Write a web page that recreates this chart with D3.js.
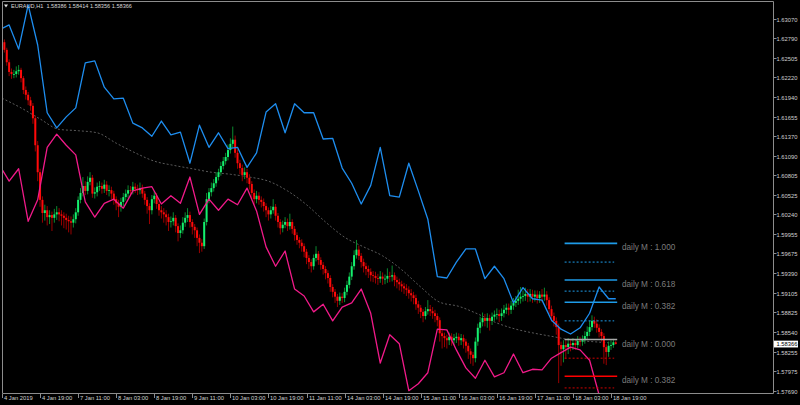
<!DOCTYPE html>
<html><head><meta charset="utf-8">
<script src="https://cdn.jsdelivr.net/npm/d3@7"></script>
<style>html,body{margin:0;padding:0;background:#000;overflow:hidden}</style>
</head><body>
<svg id="c" width="800" height="405"></svg>
<script>
const symbolTitle = "EURAUD,H1  1.58386 1.58414 1.58356 1.58366";
const firstOpen = 1.6267;
const closes = [1.6273,1.6262,1.6244,1.6230,1.6227,1.6227,1.6231,1.6233,1.6221,1.6204,
1.6197,1.6189,1.6181,1.6163,1.6124,1.6085,1.6045,1.6026,1.6030,1.6020,
1.6023,1.6019,1.6024,1.6027,1.6024,1.6022,1.6019,1.6016,1.6014,1.6012,
1.6017,1.6027,1.6045,1.6055,1.6065,1.6058,1.6071,1.6077,1.6054,1.6056,
1.6064,1.6065,1.6061,1.6067,1.6058,1.6059,1.6054,1.6046,1.6040,1.6035,
1.6042,1.6049,1.6054,1.6059,1.6058,1.6064,1.6061,1.6059,1.6062,1.6054,
1.6045,1.6036,1.6030,1.6046,1.6051,1.6039,1.6030,1.6027,1.6024,1.6020,
1.6013,1.6014,1.6019,1.6007,1.5997,1.6001,1.6012,1.6019,1.6023,1.6013,
1.6006,1.6001,1.5990,1.5983,1.5978,1.6013,1.6046,1.6056,1.6062,1.6069,
1.6078,1.6085,1.6094,1.6101,1.6107,1.6117,1.6126,1.6132,1.6113,1.6098,
1.6091,1.6081,1.6085,1.6077,1.6068,1.6055,1.6046,1.6051,1.6045,1.6042,
1.6036,1.6030,1.6024,1.6030,1.6035,1.6022,1.6013,1.6004,1.6009,1.6013,
1.6007,1.6013,1.6003,1.5994,1.5987,1.5983,1.5978,1.5970,1.5961,1.5955,
1.5949,1.5961,1.5967,1.5958,1.5951,1.5945,1.5939,1.5932,1.5919,1.5912,
1.5905,1.5899,1.5905,1.5903,1.5912,1.5922,1.5934,1.5949,1.5965,1.5973,
1.5964,1.5955,1.5949,1.5945,1.5941,1.5936,1.5935,1.5932,1.5931,1.5934,
1.5931,1.5931,1.5935,1.5934,1.5936,1.5929,1.5926,1.5923,1.5920,1.5917,
1.5915,1.5910,1.5907,1.5903,1.5894,1.5889,1.5883,1.5877,1.5884,1.5887,
1.5884,1.5881,1.5877,1.5871,1.5852,1.5848,1.5845,1.5842,1.5847,1.5842,
1.5845,1.5847,1.5842,1.5845,1.5840,1.5834,1.5826,1.5821,1.5816,1.5840,
1.5860,1.5868,1.5874,1.5870,1.5874,1.5870,1.5876,1.5879,1.5880,1.5877,
1.5881,1.5886,1.5889,1.5886,1.5892,1.5896,1.5899,1.5902,1.5905,1.5906,
1.5909,1.5905,1.5909,1.5905,1.5908,1.5903,1.5908,1.5905,1.5908,1.5900,
1.5887,1.5877,1.5870,1.5861,1.5835,1.5829,1.5835,1.5832,1.5837,1.5835,
1.5838,1.5835,1.5841,1.5840,1.5842,1.5848,1.5854,1.5861,1.5870,1.5866,
1.5860,1.5854,1.5848,1.5832,1.5825,1.5834,1.5835,1.5839,1.58366];
const highs = [1.6278,1.6277,1.6265,1.6248,1.6235,1.6233,1.6238,1.6240,1.6236,1.6224,
1.6209,1.6201,1.6194,1.6185,1.6167,1.6130,1.6090,1.6050,1.6038,1.6036,
1.6030,1.6028,1.6032,1.6036,1.6033,1.6030,1.6027,1.6025,1.6022,1.6021,
1.6024,1.6033,1.6050,1.6062,1.6078,1.6072,1.6079,1.6085,1.6081,1.6063,
1.6070,1.6072,1.6070,1.6074,1.6072,1.6066,1.6064,1.6058,1.6050,1.6045,
1.6048,1.6055,1.6060,1.6066,1.6065,1.6071,1.6069,1.6067,1.6070,1.6067,
1.6058,1.6049,1.6040,1.6052,1.6058,1.6055,1.6043,1.6036,1.6033,1.6030,
1.6025,1.6021,1.6027,1.6023,1.6011,1.6008,1.6020,1.6027,1.6033,1.6028,
1.6017,1.6010,1.6005,1.5995,1.5988,1.6018,1.6055,1.6062,1.6070,1.6075,
1.6085,1.6090,1.6100,1.6107,1.6113,1.6125,1.6134,1.6151,1.6138,1.6118,
1.6103,1.6096,1.6092,1.6090,1.6082,1.6072,1.6060,1.6058,1.6056,1.6050,
1.6047,1.6040,1.6034,1.6036,1.6046,1.6039,1.6026,1.6017,1.6015,1.6020,
1.6018,1.6025,1.6017,1.6007,1.5998,1.5991,1.5988,1.5982,1.5974,1.5965,
1.5959,1.5966,1.5978,1.5971,1.5962,1.5955,1.5949,1.5943,1.5936,1.5923,
1.5916,1.5909,1.5911,1.5910,1.5918,1.5928,1.5940,1.5955,1.5972,1.5987,
1.5979,1.5968,1.5960,1.5954,1.5950,1.5946,1.5942,1.5941,1.5938,1.5942,
1.5940,1.5937,1.5946,1.5941,1.5950,1.5940,1.5934,1.5931,1.5928,1.5925,
1.5923,1.5920,1.5916,1.5912,1.5908,1.5899,1.5893,1.5887,1.5890,1.5900,
1.5893,1.5890,1.5886,1.5881,1.5875,1.5857,1.5853,1.5850,1.5853,1.5852,
1.5851,1.5853,1.5852,1.5851,1.5850,1.5844,1.5838,1.5830,1.5825,1.5846,
1.5866,1.5876,1.5882,1.5880,1.5881,1.5879,1.5882,1.5885,1.5888,1.5886,
1.5888,1.5893,1.5895,1.5895,1.5899,1.5903,1.5906,1.5915,1.5919,1.5914,
1.5918,1.5916,1.5916,1.5915,1.5914,1.5914,1.5913,1.5916,1.5918,1.5913,
1.5904,1.5892,1.5882,1.5875,1.5866,1.5840,1.5842,1.5842,1.5845,1.5843,
1.5845,1.5843,1.5848,1.5847,1.5849,1.5855,1.5862,1.5870,1.5878,1.5876,
1.5872,1.5865,1.5858,1.5852,1.5836,1.5840,1.5842,1.5844,1.58414];
const lows = [1.6263,1.6258,1.6239,1.6224,1.6220,1.6221,1.6222,1.6226,1.6215,1.6198,
1.6190,1.6182,1.6174,1.6155,1.6115,1.6072,1.6035,1.6012,1.6015,1.6008,
1.6010,1.6000,1.6012,1.6016,1.6014,1.6008,1.6004,1.6002,1.5998,1.5995,
1.6005,1.6011,1.6022,1.6040,1.6050,1.6052,1.6053,1.6066,1.6048,1.6047,
1.6050,1.6058,1.6054,1.6055,1.6052,1.6050,1.6046,1.6038,1.6030,1.6020,
1.6028,1.6036,1.6044,1.6048,1.6051,1.6053,1.6055,1.6052,1.6053,1.6048,
1.6038,1.6025,1.6010,1.6024,1.6040,1.6032,1.6022,1.6018,1.6012,1.6008,
1.6000,1.6005,1.6008,1.5998,1.5985,1.5990,1.5996,1.6006,1.6013,1.6005,
1.5995,1.5990,1.5978,1.5968,1.5970,1.5974,1.6008,1.6040,1.6050,1.6057,
1.6064,1.6073,1.6080,1.6089,1.6096,1.6102,1.6112,1.6120,1.6106,1.6090,
1.6082,1.6072,1.6075,1.6069,1.6060,1.6046,1.6038,1.6040,1.6038,1.6034,
1.6028,1.6020,1.6015,1.6018,1.6025,1.6015,1.6005,1.5995,1.5998,1.6004,
1.6000,1.6002,1.5996,1.5986,1.5980,1.5975,1.5970,1.5962,1.5952,1.5945,
1.5940,1.5944,1.5956,1.5951,1.5944,1.5937,1.5930,1.5924,1.5912,1.5904,
1.5896,1.5890,1.5893,1.5896,1.5897,1.5907,1.5917,1.5929,1.5944,1.5960,
1.5958,1.5947,1.5940,1.5936,1.5932,1.5927,1.5926,1.5924,1.5922,1.5925,
1.5922,1.5923,1.5925,1.5926,1.5927,1.5920,1.5917,1.5914,1.5912,1.5909,
1.5906,1.5902,1.5898,1.5894,1.5886,1.5880,1.5874,1.5868,1.5872,1.5879,
1.5877,1.5873,1.5868,1.5862,1.5840,1.5830,1.5832,1.5830,1.5835,1.5834,
1.5835,1.5838,1.5834,1.5835,1.5830,1.5824,1.5815,1.5808,1.5805,1.5810,
1.5834,1.5852,1.5862,1.5862,1.5860,1.5856,1.5864,1.5870,1.5872,1.5868,
1.5870,1.5875,1.5880,1.5878,1.5880,1.5886,1.5890,1.5893,1.5895,1.5898,
1.5899,1.5897,1.5898,1.5896,1.5898,1.5895,1.5896,1.5897,1.5899,1.5892,
1.5880,1.5869,1.5862,1.5850,1.5780,1.5805,1.5810,1.5815,1.5822,1.5826,
1.5828,1.5828,1.5830,1.5833,1.5834,1.5837,1.5842,1.5848,1.5856,1.5860,
1.5853,1.5846,1.5840,1.5808,1.5806,1.5818,1.5828,1.5831,1.58356];
// upper (blue) and lower (pink) envelope, one vertex every 4 bars
const upperLine = [1.6291,1.6298,1.6263,1.6327,1.6269,1.6171,1.6149,1.6165,1.6178,1.6243,
1.6246,1.6208,1.6191,1.6192,1.6156,1.6149,1.6137,1.6159,1.6139,1.6143,
1.6098,1.6153,1.6121,1.6142,1.6119,1.6121,1.6092,1.6113,1.6172,1.6184,
1.6142,1.6184,1.6171,1.6171,1.6133,1.6134,1.6091,1.6069,1.6039,1.6066,
1.6121,1.6051,1.6049,1.6098,1.6058,1.6017,1.5934,1.5932,1.5955,1.5974,
1.5974,1.5931,1.5949,1.5931,1.5896,1.5918,1.5902,1.5900,1.5871,1.5858,
1.5851,1.5860,1.5881,1.5919,1.5902,1.5902];
const lowerLine = [1.6095,1.6072,1.6090,1.6014,1.6045,1.6121,1.6140,1.6124,1.6110,1.6042,
1.6020,1.6040,1.6046,1.6033,1.6058,1.6062,1.6064,1.6039,1.6051,1.6040,
1.6078,1.6024,1.6046,1.6030,1.6046,1.6038,1.6062,1.6029,1.5977,1.5949,
1.5971,1.5916,1.5906,1.5883,1.5894,1.5870,1.5890,1.5896,1.5916,1.5881,
1.5809,1.5850,1.5837,1.5769,1.5779,1.5795,1.5858,1.5857,1.5828,1.5802,
1.5787,1.5813,1.5789,1.5795,1.5822,1.5795,1.5800,1.5799,1.5816,1.5824,
1.5832,1.5828,1.5813,1.5763,1.5727,1.5712];
// moving average, sampled every 8 bars
const maLine = [1.6192,1.6178,1.6162,1.6147,1.6145,1.6142,1.6127,1.6113,1.6101,1.6095,
1.6090,1.6085,1.6082,1.6078,1.6072,1.6058,1.6038,1.6013,1.5991,1.5977,
1.5964,1.5944,1.5919,1.5897,1.5891,1.5880,1.5867,1.5858,1.5852,1.5847,
1.5842,1.5840,1.5838];
const priceTicks = ["1.63070","1.62790","1.62505","1.62220","1.61940","1.61655","1.61370","1.61090","1.60805","1.60525","1.60240","1.59955","1.59675","1.59390","1.59105","1.58825","1.58540","1.58255","1.57975","1.57690"];
const timeLabels = ["4 Jan 2019","4 Jan 19:00","7 Jan 11:00","8 Jan 03:00","8 Jan 19:00","9 Jan 11:00","10 Jan 03:00","10 Jan 19:00","11 Jan 11:00","14 Jan 03:00","14 Jan 19:00","15 Jan 11:00","16 Jan 03:00","16 Jan 19:00","17 Jan 11:00","18 Jan 03:00","18 Jan 19:00"];
const currentPrice = 1.58366;
const levelPrices = [1.5982,1.5955,1.5929,1.5913,1.5897,1.5870,1.5843,1.5816,1.5790,1.5773];
const levelKinds  = ["up","upDot","up","upDot","up","upDot","zero","dnDot","dn","dnDot"];
const levelLabels = ["daily M : 1.000","","daily M : 0.618","","daily M : 0.382","","daily M : 0.000","","daily M : 0.382",""];

const W=800,H=405;
const P={l:2,r:773,t:2,b:393};
const x=d3.scaleLinear().domain([0,256]).range([2,611]);
const y=d3.scaleLinear().domain([1.57690,1.63070]).range([390.7,18.7]);
const svg=d3.select('#c');
svg.append('rect').attr('width',W).attr('height',H).attr('fill','#000');
svg.append('defs').append('clipPath').attr('id','clip').append('rect')
  .attr('x',P.l).attr('y',P.t).attr('width',P.r-P.l).attr('height',P.b-P.t);
const g=svg.append('g').attr('clip-path','url(#clip)');

// moving average
g.append('path').datum(maLine)
  .attr('d',d3.line().x((d,i)=>x(i*8)).y(d=>y(d)).curve(d3.curveMonotoneX))
  .attr('fill','none').attr('stroke','#5a5a5a').attr('stroke-width',1).attr('stroke-dasharray','2,2');

// candles
const bars=closes.map((c,i)=>({i,o:i?closes[i-1]:firstOpen,c,h:highs[i],l:lows[i]}));
const cg=g.append('g');
cg.selectAll('line.w').data(bars).join('line').attr('class','w')
  .attr('x1',d=>x(d.i)).attr('x2',d=>x(d.i))
  .attr('y1',d=>y(d.h)).attr('y2',d=>y(d.l))
  .attr('stroke',d=>d.c>=d.o?'#0b8a30':'#9a0000').attr('stroke-width',1);
cg.selectAll('rect.b').data(bars).join('rect').attr('class','b')
  .attr('x',d=>x(d.i)-1).attr('width',2)
  .attr('y',d=>Math.min(y(d.o),y(d.c)))
  .attr('height',d=>Math.max(0.8,Math.abs(y(d.o)-y(d.c))))
  .attr('fill',d=>d.c>=d.o?'#14f06e':'#ff0a0a');

// envelope lines
const lastBar=closes.length-1;
const vx=(i,n)=> i===n-1? x(lastBar) : x(4*i-1);
[[upperLine,'#1e8ef0'],[lowerLine,'#f21a8a']].forEach(([arr,col])=>{
  g.append('path').datum(arr)
   .attr('d',d3.line().x((d,i)=>vx(i,arr.length)).y(d=>y(d)))
   .attr('fill','none').attr('stroke',col).attr('stroke-width',1.3).attr('stroke-linejoin','round');
});

// daily M levels
const lx1=x(236.5), lx2=x(258.6);
const style={up:['#1e9be8',1.6,null],upDot:['#1e9be8',1,'2,2'],zero:['#a8a8a8',1.6,null],dn:['#ff0000',1.6,null],dnDot:['#d00000',1,'2,2']};
levelPrices.forEach((p,k)=>{
  const s=style[levelKinds[k]];
  g.append('line').attr('x1',lx1).attr('x2',s[2]?lx2-3:lx2).attr('y1',y(p)).attr('y2',y(p))
   .attr('stroke',s[0]).attr('stroke-width',s[1]).attr('stroke-dasharray',s[2]);
  if(levelLabels[k]) g.append('text').attr('x',622).attr('y',y(p)+7)
   .attr('fill','#7c7c7c').attr('font-family','Liberation Sans, Arial, sans-serif').attr('font-size',8.2)
   .text(levelLabels[k]);
});

// frame
const axisCol='#8c8c8c';
svg.append('path').attr('d',`M${P.l+0.5},${P.b+0.5}V${P.t-0.5}H${P.r+0.5}V${P.b+0.5}H${P.l+0.5}`)
  .attr('fill','none').attr('stroke',axisCol).attr('stroke-width',1);

const font='Liberation Sans, Arial, sans-serif';
// price axis
priceTicks.forEach(t=>{
  const yy=Math.round(y(+t))+0.5;
  svg.append('line').attr('x1',P.r+0.5).attr('x2',P.r+3.5).attr('y1',yy).attr('y2',yy).attr('stroke',axisCol);
  svg.append('text').attr('x',776.5).attr('y',yy+2).attr('fill','#d0d0d0')
    .attr('font-family',font).attr('font-size',5.8).text(t);
});
// current price box
const cy=y(currentPrice);
svg.append('rect').attr('x',774).attr('y',cy-3.3).attr('width',24).attr('height',6.8).attr('fill','#fff');
svg.append('text').attr('x',776.5).attr('y',cy+2).attr('fill','#000')
  .attr('font-family',font).attr('font-size',5.8).text(currentPrice.toFixed(5));

// time axis
timeLabels.forEach((t,k)=>{
  const xx=Math.round(x(k*16))+0.5;
  svg.append('line').attr('x1',xx).attr('x2',xx).attr('y1',P.b+1).attr('y2',P.b+5).attr('stroke',axisCol);
  svg.append('text').attr('x',xx+1.5).attr('y',399.5).attr('fill','#d0d0d0')
    .attr('font-family',font).attr('font-size',5.8).text(t);
});

// title
svg.append('path').attr('d','M4,4.5L8,4.5L6,7.5Z').attr('fill','#e0e0e0');
svg.append('text').attr('x',11).attr('y',8).attr('fill','#d8d8d8')
  .attr('font-family',font).attr('font-size',5.6).style('white-space','pre').text(symbolTitle);
</script>
</body></html>
